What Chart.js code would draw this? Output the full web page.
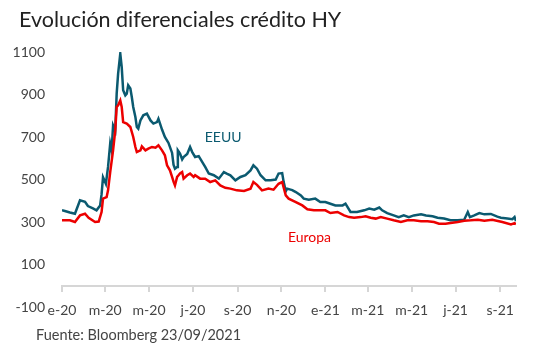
<!DOCTYPE html>
<html lang="es">
<head>
<meta charset="utf-8">
<script src="https://cdn.jsdelivr.net/npm/chart.js@4.4.0/dist/chart.umd.min.js"></script>
<style>
  html, body { margin: 0; padding: 0; background: #fff; }
  #wrap { position: relative; width: 539px; height: 359px; font-family: Lato, sans-serif; }
  #wrap canvas { position: absolute; left: 0; top: 0; }
  #titulo { position: absolute; left: 19px; top: 6px; font-size: 21.5px; color: #222; white-space: nowrap; }
  #fuente { position: absolute; left: 36px; top: 326px; font-size: 14.5px; color: #444; white-space: nowrap; }
</style>
</head>
<body>
<div id="wrap">
  <canvas id="grafico" width="539" height="359"></canvas>
  <div id="titulo">Evolución diferenciales crédito HY</div>
  <div id="fuente">Fuente: Bloomberg 23/09/2021</div>
</div>
<script>
// días desde el 1-ene-2020 y diferencial (pb)
const diasEEUU = [0,4,11,18,25,32,36,43,48,53,55,57,61,64,67,69,71,74,76,78,81,83,85,88,90,92,95,97,99,102,104,106,109,113,118,123,127,132,134,139,143,148,153,155,157,160,161,164,167,169,174,178,181,185,190,195,199,204,211,218,225,229,234,241,248,255,262,266,271,276,283,290,297,301,306,308,311,313,320,325,332,336,343,352,359,366,373,380,390,394,401,410,420,427,434,441,445,452,461,468,475,482,489,499,506,515,522,531,540,550,559,564,567,573,580,587,596,605,610,619,626,629,631];
const eeuu = [355,352,345,339,402,395,375,364,355,378,430,511,480,559,669,637,755,731,904,998,1092,1029,920,896,904,943,928,888,841,794,747,739,778,802,810,778,763,770,786,735,700,672,625,570,551,559,637,622,595,606,620,653,629,606,610,582,559,528,520,504,535,528,520,496,512,520,543,567,551,520,496,496,500,528,530,490,445,457,450,441,425,410,405,410,394,394,386,378,378,386,347,347,355,363,358,368,355,342,331,323,331,323,331,336,331,327,320,316,308,308,311,347,323,331,342,336,338,325,320,316,313,323,304];

const diasEuropa = [0,11,18,25,32,37,46,51,55,57,62,64,67,71,74,76,78,81,83,85,90,95,99,102,104,109,111,116,120,125,130,134,139,143,146,150,153,155,157,160,162,164,167,169,174,178,183,185,192,199,206,213,220,227,234,243,253,262,266,271,278,287,294,301,306,311,315,325,334,341,350,357,366,373,383,392,399,406,415,422,429,436,443,452,461,471,480,489,499,508,517,524,533,540,550,559,568,578,587,598,612,624,629,631];
const europa = [308,308,300,331,339,320,300,302,347,410,417,449,535,637,731,841,849,872,841,770,763,747,700,653,629,637,656,637,645,653,650,661,637,614,567,543,512,490,472,512,520,528,535,504,520,528,512,520,504,504,488,496,472,461,457,449,446,457,488,475,449,457,452,480,488,425,410,394,378,360,355,355,355,342,347,331,323,320,323,327,320,316,323,316,308,300,308,308,304,304,300,292,292,295,300,306,308,311,306,310,300,289,295,289];

// ejes
const tickDias = [0,60,121,182,244,305,366,425,486,547,609];
const tickLabels = ['e-20','m-20','m-20','j-20','s-20','n-20','e-21','m-21','m-21','j-21','s-21'];
const yTicks = [-100,100,300,500,700,900,1100];

const colorEEUU = '#0b5a70';
const colorEuropa = '#ec0000';
const colorTexto = '#444';
const colorEje = '#d6d6d6';

const puntos = (dias, vals) => dias.map((d, i) => ({ x: d, y: vals[i] }));

// nombres de las series junto a las líneas
const etiquetas = {
  id: 'etiquetas',
  afterDatasetsDraw(chart) {
    const { ctx, scales: { x, y } } = chart;
    ctx.save();
    ctx.font = '14px Lato';
    ctx.textAlign = 'center';
    ctx.textBaseline = 'middle';
    ctx.fillStyle = colorEEUU;
    ctx.fillText('EEUU', x.getPixelForValue(224), y.getPixelForValue(696));
    ctx.fillStyle = colorEuropa;
    ctx.fillText('Europa', x.getPixelForValue(344), y.getPixelForValue(228));
    ctx.restore();
  }
};

const ctx = document.getElementById('grafico').getContext('2d');
const chart = new Chart(ctx, {
  type: 'line',
  data: {
    datasets: [
      { label: 'Europa', data: puntos(diasEuropa, europa), borderColor: colorEuropa, borderWidth: 2.5, pointRadius: 0, tension: 0 },
      { label: 'EEUU', data: puntos(diasEEUU, eeuu), borderColor: colorEEUU, borderWidth: 2.5, pointRadius: 0, tension: 0 }
    ]
  },
  options: {
    responsive: false,
    animation: false,
    layout: { padding: { top: 52, bottom: 52, left: 0, right: 23 } },
    plugins: {
      legend: { display: false },
      tooltip: { enabled: false }
    },
    scales: {
      x: {
        type: 'linear',
        min: 0,
        max: 631,
        position: { y: 0 },
        afterBuildTicks: (s) => { s.ticks = tickDias.map(v => ({ value: v })); },
        ticks: {
          autoSkip: false,
          maxRotation: 0,
          padding: 11,
          color: colorTexto,
          font: { family: 'Lato', size: 14 },
          callback: (v, i) => tickLabels[i]
        },
        grid: { display: true, drawOnChartArea: false, drawTicks: true, tickLength: 5, color: colorEje, lineWidth: 2 },
        border: { display: true, color: colorEje, width: 2 }
      },
      y: {
        min: -100,
        max: 1100,
        afterBuildTicks: (s) => { s.ticks = yTicks.map(v => ({ value: v })); },
        afterFit: (s) => { s.width = 62; },
        ticks: {
          padding: 17,
          color: colorTexto,
          font: { family: 'Lato', size: 14 },
          callback: (v) => String(v)
        },
        grid: { display: false, drawTicks: false },
        border: { display: false }
      }
    }
  },
  plugins: [etiquetas]
});
</script>
</body>
</html>
